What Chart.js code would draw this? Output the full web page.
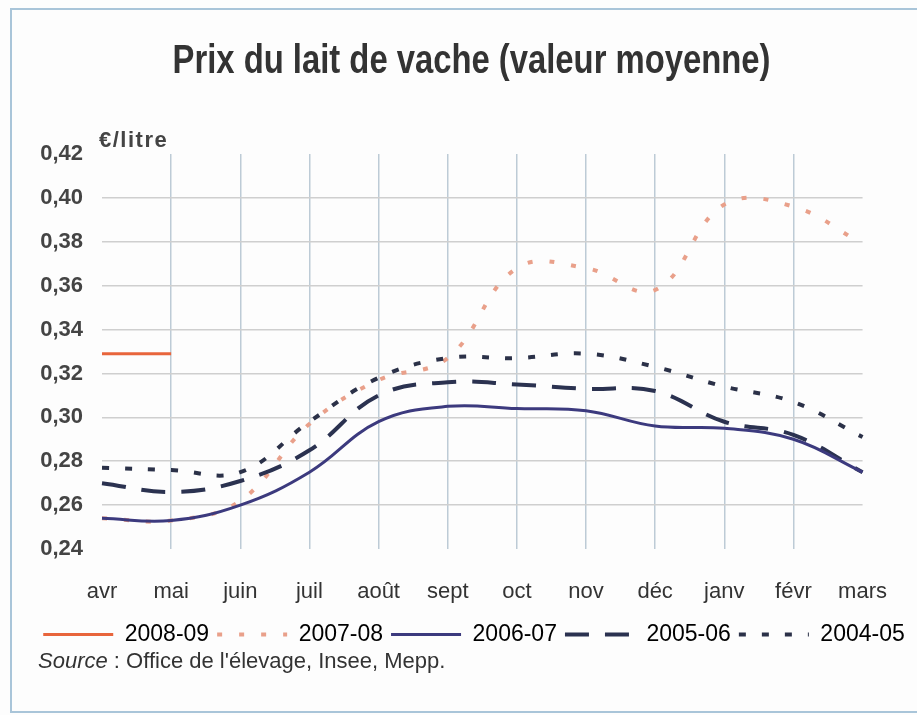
<!DOCTYPE html>
<html>
<head>
<meta charset="utf-8">
<script src="https://cdn.jsdelivr.net/npm/chart.js@4.4.1/dist/chart.umd.min.js"></script>
<style>
  html, body { margin: 0; padding: 0; background: #fff; overflow: hidden; }
  #wrap { position: relative; width: 917px; height: 715px; background: #fdfdfd; }
  #frame { position: absolute; left: 10px; top: 8px; width: 920px; height: 705px;
           border: 2px solid #a9c5d9; box-sizing: border-box; }
  canvas { position: absolute; left: 0; top: 0; }
  #title { position: absolute; left: 13px; top: 35px; width: 917px; text-align: center; color: #333;
           font: bold 40px/48px "Liberation Sans", Arial, sans-serif; transform: scaleX(0.82); }
  #unit { position: absolute; left: 99px; top: 127px; color: #444;
          font: bold 22px "Liberation Sans", Arial, sans-serif; letter-spacing: 1.5px; }
  #source { position: absolute; left: 38px; top: 648px; color: #333;
            font: 22px "Liberation Sans", Arial, sans-serif; }
</style>
</head>
<body>
<div id="wrap">
  <div id="frame"></div>
  <canvas id="milkChart" width="917" height="715"></canvas>
  <div id="title">Prix du lait de vache (valeur moyenne)</div>
  <div id="unit">€/litre</div>
  <div id="source"><i>Source</i> : Office de l'élevage, Insee, Mepp.</div>
</div>
<script>
// mois de la campagne laitière (avril -> mars)
const months = ['avr', 'mai', 'juin', 'juil', 'août', 'sept', 'oct', 'nov', 'déc', 'janv', 'févr', 'mars'];

// prix moyens en €/litre
const price2008 = [0.329, 0.329];
const price2007 = [0.254, 0.253, 0.262, 0.297, 0.317, 0.327, 0.368, 0.368, 0.358, 0.397, 0.396, 0.379];
const price2006 = [0.254, 0.253, 0.260, 0.275, 0.298, 0.305, 0.304, 0.303, 0.296, 0.295, 0.290, 0.275];
const price2005 = [0.270, 0.266, 0.271, 0.285, 0.310, 0.316, 0.315, 0.313, 0.312, 0.298, 0.292, 0.275];
const price2004 = [0.277, 0.276, 0.275, 0.298, 0.318, 0.327, 0.327, 0.329, 0.323, 0.314, 0.307, 0.291];

const yMin = 0.24, yMax = 0.42, yStep = 0.02;

const ctx = document.getElementById('milkChart').getContext('2d');
new Chart(ctx, {
  type: 'line',
  data: {
    labels: months,
    datasets: [
      { label: '2008-09', data: price2008, borderColor: '#e8653c', borderWidth: 3, order: 1 },
      { label: '2007-08', data: price2007, borderColor: '#e9a08a', borderWidth: 4, borderDash: [5, 17], order: 5 },
      { label: '2006-07', data: price2006, borderColor: '#3c3a7e', borderWidth: 3, order: 2 },
      { label: '2005-06', data: price2005, borderColor: '#2b3250', borderWidth: 4, borderDash: [24, 16], order: 3 },
      { label: '2004-05', data: price2004, borderColor: '#2b3148', borderWidth: 4, borderDash: [7, 16], order: 4 }
    ]
  },
  options: {
    responsive: false,
    animation: false,
    layout: { padding: { left: 31, right: 0, top: 154, bottom: 59 } },
    elements: {
      point: { radius: 0 },
      line: { tension: 0.4, fill: false }
    },
    plugins: {
      legend: {
        position: 'bottom',
        labels: {
          usePointStyle: true,
          pointStyleWidth: 70,
          padding: 8,
          color: '#333',
          font: { family: '"Liberation Sans", Arial', size: 23 },
          // échantillons de ligne avec le même tireté que les courbes
          generateLabels: chart => chart.data.datasets.map((ds, i) => ({
            text: ds.label,
            datasetIndex: i,
            strokeStyle: ds.borderColor,
            fillStyle: ds.borderColor,
            lineWidth: ds.borderWidth,
            lineDash: ds.borderDash || [],
            pointStyle: 'line',
            hidden: false
          }))
        }
      },
      tooltip: { enabled: false }
    },
    scales: {
      x: {
        afterFit: s => { s.height = 66; },
        border: { display: false },
        grid: {
          drawTicks: false,
          color: c => (c.index === 0 || c.index === months.length - 1) ? 'rgba(0,0,0,0)' : '#bdcbd6',
          lineWidth: 1.5
        },
        ticks: {
          autoSkip: false,
          maxRotation: 0,
          padding: 30,
          color: '#333',
          font: { family: '"Liberation Sans", Arial', size: 22 }
        }
      },
      y: {
        min: yMin,
        max: yMax,
        afterFit: s => { s.width = 71; },
        border: { display: false },
        grid: {
          drawTicks: false,
          color: c => {
            const v = c.tick ? c.tick.value : 0;
            return (Math.abs(v - yMin) < 1e-6 || Math.abs(v - yMax) < 1e-6) ? 'rgba(0,0,0,0)' : '#cfcfcf';
          },
          lineWidth: 1.5
        },
        ticks: {
          stepSize: yStep,
          padding: 19,
          color: '#444',
          font: { family: '"Liberation Sans", Arial', size: 22, weight: 'bold' },
          callback: v => v.toFixed(2).replace('.', ',')
        }
      },
      // axe vide à droite, sert seulement de marge
      yRight: {
        position: 'right',
        afterFit: s => { s.width = 45; },
        grid: { display: false },
        border: { display: false },
        ticks: { display: false }
      }
    }
  }
});
</script>
</body>
</html>
